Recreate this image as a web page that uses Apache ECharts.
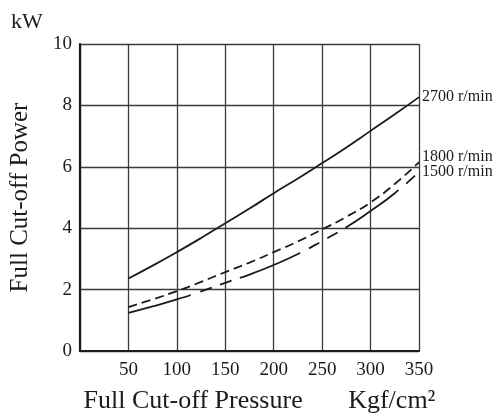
<!DOCTYPE html>
<html>
<head>
<meta charset="utf-8">
<style>
  html, body { margin: 0; padding: 0; background: #fff; }
  #chart { width: 501px; height: 419px; }
</style>
<script src="https://cdn.jsdelivr.net/npm/echarts@6/dist/echarts.min.js"></script>
</head>
<body>
<div id="chart"></div>
<script>
// Full cut-off pressure (Kgf/cm²)
const pressure = [50, 75, 100, 125, 150, 175, 200, 225, 250, 275, 300, 325, 350];
// Full cut-off power (kW) at each speed
const power2700 = [2.36, 2.78, 3.22, 3.68, 4.16, 4.64, 5.14, 5.62, 6.12, 6.63, 7.17, 7.71, 8.27];
const power1800 = [1.43, 1.68, 1.95, 2.25, 2.57, 2.88, 3.22, 3.57, 3.96, 4.37, 4.84, 5.44, 6.15];
const power1500 = [1.24, 1.45, 1.68, 1.94, 2.22, 2.49, 2.80, 3.16, 3.58, 4.03, 4.56, 5.14, 5.83];
const speedNames = ['2700 r/min', '1800 r/min', '1500 r/min'];
const yTicks = [0, 2, 4, 6, 8, 10];
const xTicks = [50, 100, 150, 200, 250, 300, 350];

const FONT = '"Liberation Serif", "DejaVu Serif", serif';
const INK = '#1b1b1b';

function pairs(ys) { return pressure.map((p, i) => [p, ys[i]]); }

const chart = echarts.init(document.getElementById('chart'), null, { renderer: 'canvas' });

function endLabel(offset) {
  return {
    show: true,
    formatter: '{a}',
    distance: 3,
    offset: offset,
    color: INK,
    fontFamily: FONT,
    fontSize: 16
  };
}

chart.setOption({
  animation: false,
  backgroundColor: '#fff',
  title: {
    text: 'kW',
    left: 6,
    top: 6,
    textStyle: { fontFamily: FONT, fontSize: 22, fontWeight: 'normal', color: INK }
  },
  grid: { left: 73, right: 82, top: 44, bottom: 61, containLabel: false },
  xAxis: {
    type: 'value',
    min: 0,
    max: 350,
    interval: 50,
    name: 'Full Cut-off Pressure       Kgf/cm²',
    nameLocation: 'middle',
    nameGap: 37,
    nameTextStyle: { fontFamily: FONT, fontSize: 26, color: INK, padding: [0, 0, 0, 20] },
    axisLine: { show: true, lineStyle: { color: INK, width: 2.2 } },
    axisTick: { show: false },
    axisLabel: {
      margin: 10,
      fontFamily: FONT,
      fontSize: 19,
      color: INK,
      formatter: v => (xTicks.indexOf(v) >= 0 ? String(v) : '')
    },
    splitLine: { show: true, lineStyle: { color: '#3a3a3a', width: 1.3 } }
  },
  yAxis: {
    type: 'value',
    min: 0,
    max: 10,
    interval: 2,
    name: 'Full Cut-off Power',
    nameLocation: 'middle',
    nameGap: 47,
    nameTextStyle: { fontFamily: FONT, fontSize: 25, color: INK },
    axisLine: { show: true, lineStyle: { color: INK, width: 2.2 } },
    axisTick: { show: false },
    axisLabel: {
      margin: 8,
      fontFamily: FONT,
      fontSize: 19,
      color: INK,
      formatter: v => (yTicks.indexOf(v) >= 0 ? String(v) : '')
    },
    splitLine: { show: true, lineStyle: { color: '#3a3a3a', width: 1.3 } }
  },
  series: [
    {
      name: speedNames[0],
      type: 'line',
      smooth: true,
      symbol: 'none',
      data: pairs(power2700),
      lineStyle: { color: INK, width: 1.8, type: 'solid' },
      endLabel: endLabel([0, 0])
    },
    {
      name: speedNames[1],
      type: 'line',
      smooth: true,
      symbol: 'none',
      data: pairs(power1800),
      lineStyle: { color: INK, width: 1.8, type: [9, 5] },
      endLabel: endLabel([0, -5])
    },
    {
      name: speedNames[2],
      type: 'line',
      smooth: true,
      symbol: 'none',
      data: pairs(power1500),
      lineStyle: { color: INK, width: 1.8, type: [65, 10, 12, 9, 12, 9] },
      endLabel: endLabel([0, 0])
    }
  ]
});
</script>
</body>
</html>
